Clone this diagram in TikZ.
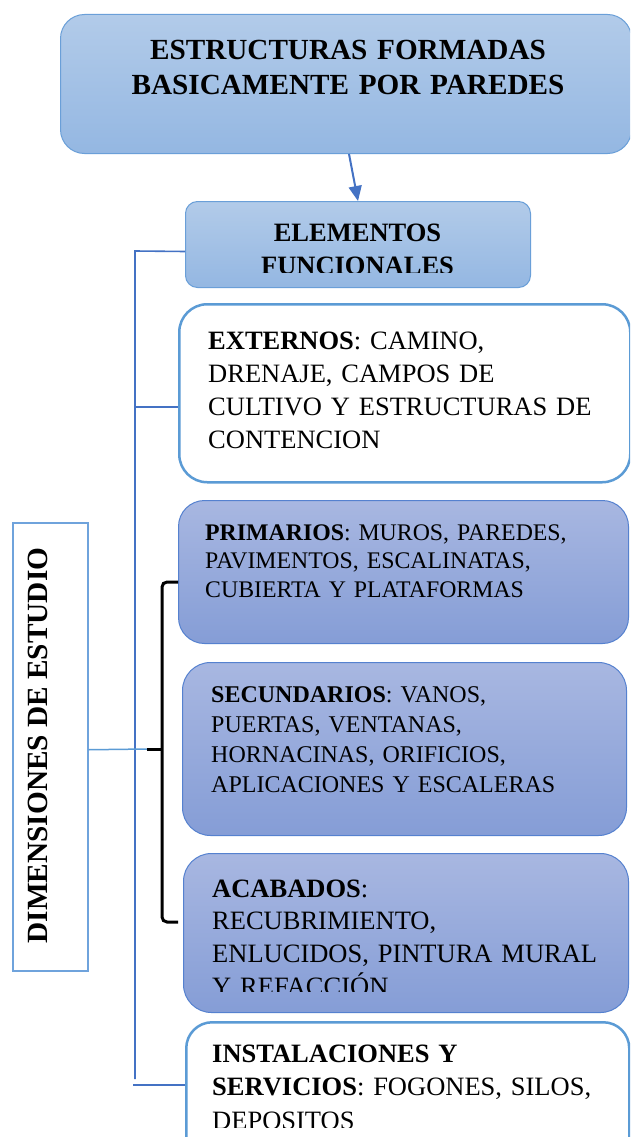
\documentclass[tikz,border=0pt]{standalone}
\usepackage{fontspec}
\setmainfont{Liberation Serif}
\usetikzlibrary{calc,arrows.meta}
\definecolor{connblue}{HTML}{4472C4}
\definecolor{lightbrd}{HTML}{5B9BD5}
\definecolor{topbrd}{HTML}{6A9FD8}
\definecolor{topA}{HTML}{B2CBE9}
\definecolor{topB}{HTML}{94B7E2}
\definecolor{midA}{HTML}{A8B7E1}
\definecolor{midB}{HTML}{859DD6}
\definecolor{midbrd}{HTML}{5581CF}
\definecolor{dimbrd}{HTML}{6FA3DC}
\begin{document}
\begin{tikzpicture}[x=1pt,y=-1pt,
  boxbase/.style={inner sep=0pt, anchor=north west},
  headbox/.style={boxbase, draw=topbrd, line width=1pt, top color=topA, bottom color=topB},
  midbox/.style={boxbase, draw=midbrd, line width=1pt, top color=midA, bottom color=midB},
  whitebox/.style={boxbase, draw=lightbrd, line width=2.5pt, fill=white},
  dimbox/.style={boxbase, draw=dimbrd, line width=1.5pt, fill=white},
  txt/.style={inner sep=0pt, anchor=base west, align=left, text width=430pt},
  ctxt/.style={inner sep=0pt, anchor=base, align=center, text width=520pt},
  conn/.style={draw=connblue, line width=1.6pt},
  thinconn/.style={draw=lightbrd, line width=1.5pt},
  bracket/.style={draw=black, line width=3pt, rounded corners=5pt},
  arrowline/.style={draw=connblue, line width=2pt, -{Triangle[length=15pt,width=13pt]}}
]
\clip (0,0) rectangle (630,1137);
\fill[white] (0,0) rectangle (630,1137);

% boxes
\node[headbox, rounded corners=24pt, minimum width=571pt, minimum height=139pt] (top) at (60,14) {};
\node[headbox, rounded corners=12pt, minimum width=345pt, minimum height=86pt] (elem) at (185,201) {};
\node[whitebox, rounded corners=28pt, minimum width=451pt, minimum height=178pt] (ext) at (178,303) {};
\node[midbox, rounded corners=26pt, minimum width=450pt, minimum height=143pt] (prim) at (178,500) {};
\node[midbox, rounded corners=28pt, minimum width=444pt, minimum height=173pt] (sec) at (182,662) {};
\node[midbox, rounded corners=28pt, minimum width=445pt, minimum height=159pt] (acab) at (183,853) {};
\node[whitebox, rounded corners=26pt, minimum width=443pt, minimum height=170pt] (inst) at (185,1021) {};
\node[dimbox, minimum width=75pt, minimum height=448pt] (dim) at (12,522) {};

% texts
\node[ctxt, font=\bfseries\fontsize{29.2}{35}\selectfont] (toptxt) at (348,60)
  {ESTRUCTURAS FORMADAS\\BASICAMENTE POR PAREDES};
\begin{scope}
\clip (185,201) rectangle (530,272);
\node[ctxt, text width=340pt, font=\bfseries\fontsize{26.5}{33}\selectfont] (elemtxt) at (357.5,241)
  {ELEMENTOS\\FUNCIONALES};
\end{scope}
\node[txt, font=\fontsize{26.5}{33}\selectfont] (exttxt) at (208,349)
  {\textbf{EXTERNOS}: CAMINO,\\DRENAJE, CAMPOS DE\\CULTIVO Y ESTRUCTURAS DE\\CONTENCION};
\node[txt, font=\fontsize{23.8}{28.5}\selectfont] (primtxt) at (205,540)
  {\textbf{PRIMARIOS}: MUROS, PAREDES,\\PAVIMENTOS, ESCALINATAS,\\CUBIERTA Y PLATAFORMAS};
\node[txt, font=\fontsize{24}{30}\selectfont] (sectxt) at (211,702)
  {\textbf{SECUNDARIOS}: VANOS,\\PUERTAS, VENTANAS,\\HORNACINAS, ORIFICIOS,\\APLICACIONES Y ESCALERAS};
\begin{scope}
\clip (183,853) rectangle (628,991);
\node[txt, font=\fontsize{26.5}{32.8}\selectfont] (acabtxt) at (212,897)
  {\textbf{ACABADOS}:\\RECUBRIMIENTO,\\ENLUCIDOS, PINTURA MURAL\\Y REFACCIÓN};
\end{scope}
\begin{scope}
\clip (185,1021) rectangle (628,1127);
\node[txt, font=\fontsize{26.5}{33.5}\selectfont] (insttxt) at (212,1062)
  {\textbf{INSTALACIONES Y}\\\textbf{SERVICIOS}: FOGONES, SILOS,\\DEPOSITOS};
\end{scope}
\node[inner sep=0pt, rotate=90, font=\bfseries\fontsize{29.3}{35}\selectfont] (dimtxt) at (38,745.5)
  {DIMENSIONES DE ESTUDIO};

% connectors
\draw[arrowline] ($(top.south)+(3,0)$) -- (elem.north);
\coordinate (sTop) at (135,251);
\coordinate (sBot) at (135,1079);
\coordinate (eJ) at (135,407);
\coordinate (iJ) at (133,1085);
\draw[conn] ($(elem.west)+(0,7)$) -- (sTop) -- (sBot);
\draw[conn] (eJ) -- (eJ -| ext.west);
\draw[conn] (iJ) -- (iJ -| inst.west);
\coordinate (tk) at (147,749);
\coordinate (bk) at (162,749);
\coordinate (bA) at (178,582);
\coordinate (bB) at (178,922);
\draw[thinconn] ($(dim.east)+(0,3)$) -- (tk);
\draw[bracket] (bA) -| (bk) |- (bB);
\draw[bracket] (tk) -- (bk);
\end{tikzpicture}
\end{document}
